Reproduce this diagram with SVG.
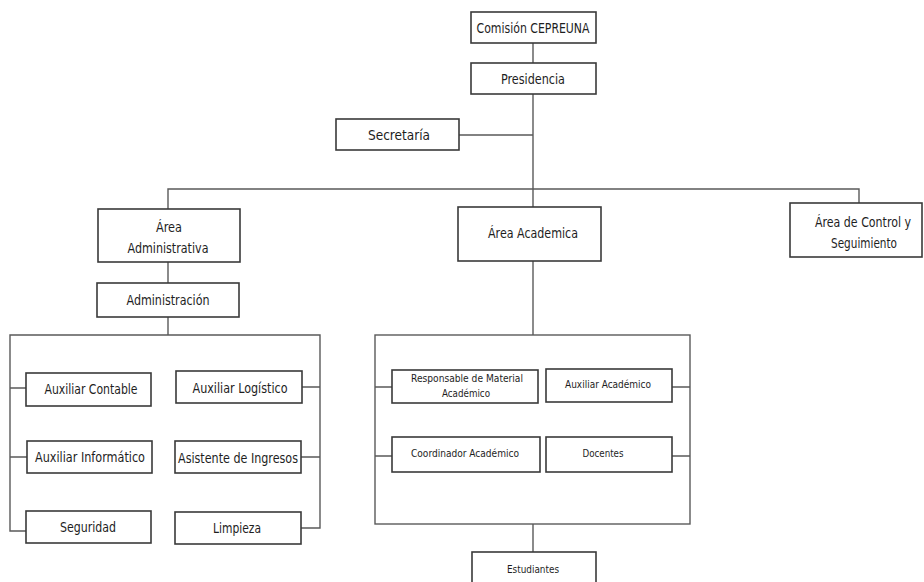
<svg xmlns="http://www.w3.org/2000/svg" width="924" height="582" viewBox="0 0 924 582">
<style>
.box{fill:#fff;stroke:#3a3a3a;stroke-width:1.6}
.ln{fill:none;stroke:#5a5a5a;stroke-width:1.4}
text{font-family:"DejaVu Sans Condensed","DejaVu Sans",sans-serif;fill:#1e1e1e;text-anchor:middle}
.t13{font-size:14px}
.t10{font-size:10.5px}
</style>
<rect width="924" height="582" fill="#fff"/>
<g id="connectors">
<path class="ln" d="M533 43V63M533 94V207M459 135H533"/>
<path class="ln" d="M168 209V189H859V204"/>
<path class="ln" d="M168 262V283M168 317V335"/>
<path class="ln" d="M26 531H10V335H320V528H301M10 388H26M10 457H27M302 387H320M301 457H320"/>
<path class="ln" d="M533 261V335"/>
<rect class="ln" x="375" y="335" width="315" height="189"/>
<path class="ln" d="M375 387H392M375 456H392M672 387H690M672 456H690M533 524V552"/>
</g>
<g id="comision"><rect class="box" x="471" y="12" width="125" height="31"/><text class="t13" x="533" y="33" textLength="113" lengthAdjust="spacingAndGlyphs">Comisión CEPREUNA</text></g>
<g id="presidencia"><rect class="box" x="471" y="63" width="125" height="31"/><text class="t13" x="533" y="84" textLength="64" lengthAdjust="spacingAndGlyphs">Presidencia</text></g>
<g id="secretaria"><rect class="box" x="336" y="119" width="123" height="31"/><text class="t13" x="399" y="140" textLength="62" lengthAdjust="spacingAndGlyphs">Secretaría</text></g>
<g id="area-administrativa"><rect class="box" x="98" y="209" width="142" height="53"/><text class="t13" x="169" y="232" textLength="26" lengthAdjust="spacingAndGlyphs">Área</text><text class="t13" x="168" y="253" textLength="81" lengthAdjust="spacingAndGlyphs">Administrativa</text></g>
<g id="area-academica"><rect class="box" x="458" y="207" width="143" height="54"/><text class="t13" x="533" y="238" textLength="90" lengthAdjust="spacingAndGlyphs">Área Academica</text></g>
<g id="area-control"><rect class="box" x="790" y="203" width="132" height="54"/><text class="t13" x="863" y="227" textLength="96" lengthAdjust="spacingAndGlyphs">Área de Control y</text><text class="t13" x="864" y="248" textLength="66" lengthAdjust="spacingAndGlyphs">Seguimiento</text></g>
<g id="administracion"><rect class="box" x="97" y="283" width="142" height="34"/><text class="t13" x="168" y="305" textLength="83" lengthAdjust="spacingAndGlyphs">Administración</text></g>
<g id="auxiliar-contable"><rect class="box" x="26" y="373" width="125" height="33"/><text class="t13" x="91" y="394" textLength="93" lengthAdjust="spacingAndGlyphs">Auxiliar Contable</text></g>
<g id="auxiliar-informatico"><rect class="box" x="27" y="441" width="125" height="32"/><text class="t13" x="90" y="462" textLength="110" lengthAdjust="spacingAndGlyphs">Auxiliar Informático</text></g>
<g id="seguridad"><rect class="box" x="26" y="511" width="125" height="32"/><text class="t13" x="88" y="532" textLength="56" lengthAdjust="spacingAndGlyphs">Seguridad</text></g>
<g id="auxiliar-logistico"><rect class="box" x="176" y="371" width="126" height="32"/><text class="t13" x="240" y="393" textLength="95" lengthAdjust="spacingAndGlyphs">Auxiliar Logístico</text></g>
<g id="asistente-ingresos"><rect class="box" x="175" y="441" width="126" height="32"/><text class="t13" x="238" y="463" textLength="120" lengthAdjust="spacingAndGlyphs">Asistente de Ingresos</text></g>
<g id="limpieza"><rect class="box" x="175" y="512" width="126" height="32"/><text class="t13" x="237" y="533" textLength="48" lengthAdjust="spacingAndGlyphs">Limpieza</text></g>
<g id="responsable-material"><rect class="box" x="392" y="370" width="146" height="33"/><text class="t10" x="467" y="382" textLength="112" lengthAdjust="spacingAndGlyphs">Responsable de Material</text><text class="t10" x="466" y="397" textLength="48" lengthAdjust="spacingAndGlyphs">Académico</text></g>
<g id="auxiliar-academico"><rect class="box" x="546" y="369" width="126" height="33"/><text class="t10" x="608" y="388" textLength="86" lengthAdjust="spacingAndGlyphs">Auxiliar Académico</text></g>
<g id="coordinador-academico"><rect class="box" x="392" y="437" width="148" height="35"/><text class="t10" x="465" y="457" textLength="108" lengthAdjust="spacingAndGlyphs">Coordinador Académico</text></g>
<g id="docentes"><rect class="box" x="546" y="437" width="126" height="35"/><text class="t10" x="603" y="457" textLength="41" lengthAdjust="spacingAndGlyphs">Docentes</text></g>
<g id="estudiantes"><rect class="box" x="472" y="552" width="124" height="40"/><text class="t10" x="533" y="573" textLength="52" lengthAdjust="spacingAndGlyphs">Estudiantes</text></g>
</svg>
